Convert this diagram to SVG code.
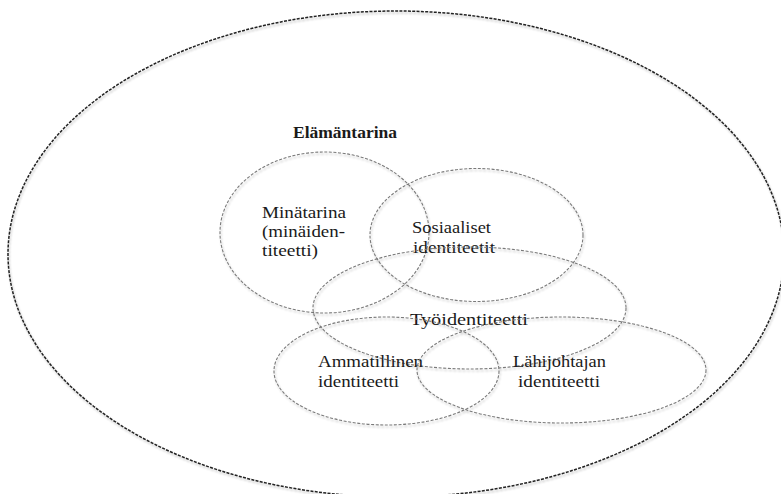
<svg xmlns="http://www.w3.org/2000/svg" width="781" height="494" viewBox="0 0 781 494">
<defs>
<filter id="sh" x="-5%" y="-5%" width="110%" height="115%">
<feGaussianBlur in="SourceAlpha" stdDeviation="1.2" result="b"/>
<feOffset in="b" dx="1" dy="2" result="o"/>
<feComponentTransfer in="o" result="s"><feFuncA type="linear" slope="0.25"/></feComponentTransfer>
<feMerge><feMergeNode in="s"/><feMergeNode in="SourceGraphic"/></feMerge>
</filter>
</defs>
<style>
.outer{fill:none;stroke:#222222;stroke-width:1.5;stroke-dasharray:3 1.3;}
.inner{fill:none;stroke:#7a7a7a;stroke-width:1.1;stroke-dasharray:3 1.6;}
.lbl{font-family:"Liberation Serif","Times New Roman",serif;font-size:17px;fill:#1a1a1a;}
.title{font-family:"Liberation Serif","Times New Roman",serif;font-size:17px;font-weight:bold;fill:#1a1a1a;}
</style>
<rect width="781" height="494" fill="#ffffff"/>
<g id="elamantarina">
<ellipse class="outer" cx="396" cy="254" rx="388" ry="243" filter="url(#sh)"/>
<text class="title" x="293" y="138" textLength="104" lengthAdjust="spacingAndGlyphs">Elämäntarina</text>
</g>
<g id="minatarina">
<ellipse class="inner" cx="324.5" cy="232.5" rx="104.5" ry="80.5" filter="url(#sh)"/>
<text class="lbl" x="262" y="218" textLength="84" lengthAdjust="spacingAndGlyphs">Minätarina</text>
<text class="lbl" x="262" y="237" textLength="83" lengthAdjust="spacingAndGlyphs">(minäiden-</text>
<text class="lbl" x="262" y="256" textLength="56" lengthAdjust="spacingAndGlyphs">titeetti)</text>
</g>
<g id="sosiaaliset">
<ellipse class="inner" cx="476.5" cy="235" rx="106.5" ry="66.5" filter="url(#sh)"/>
<text class="lbl" x="412" y="233" textLength="79" lengthAdjust="spacingAndGlyphs">Sosiaaliset</text>
<text class="lbl" x="413" y="253" textLength="82" lengthAdjust="spacingAndGlyphs">identiteetit</text>
</g>
<g id="tyoidentiteetti">
<ellipse class="inner" cx="469.5" cy="308" rx="156.5" ry="61" filter="url(#sh)"/>
<text class="lbl" x="410" y="325" textLength="118" lengthAdjust="spacingAndGlyphs">Työidentiteetti</text>
</g>
<g id="ammatillinen">
<ellipse class="inner" cx="386.5" cy="371" rx="112.5" ry="54" filter="url(#sh)"/>
<text class="lbl" x="318" y="367" textLength="105" lengthAdjust="spacingAndGlyphs">Ammatillinen</text>
<text class="lbl" x="318" y="387" textLength="81" lengthAdjust="spacingAndGlyphs">identiteetti</text>
</g>
<g id="lahijohtajan">
<ellipse class="inner" cx="561.5" cy="370" rx="144.5" ry="53" filter="url(#sh)"/>
<text class="lbl" x="513" y="367" textLength="93" lengthAdjust="spacingAndGlyphs">Lähijohtajan</text>
<text class="lbl" x="518" y="387" textLength="82" lengthAdjust="spacingAndGlyphs">identiteetti</text>
</g>
<g id="connectors"/>
</svg>
